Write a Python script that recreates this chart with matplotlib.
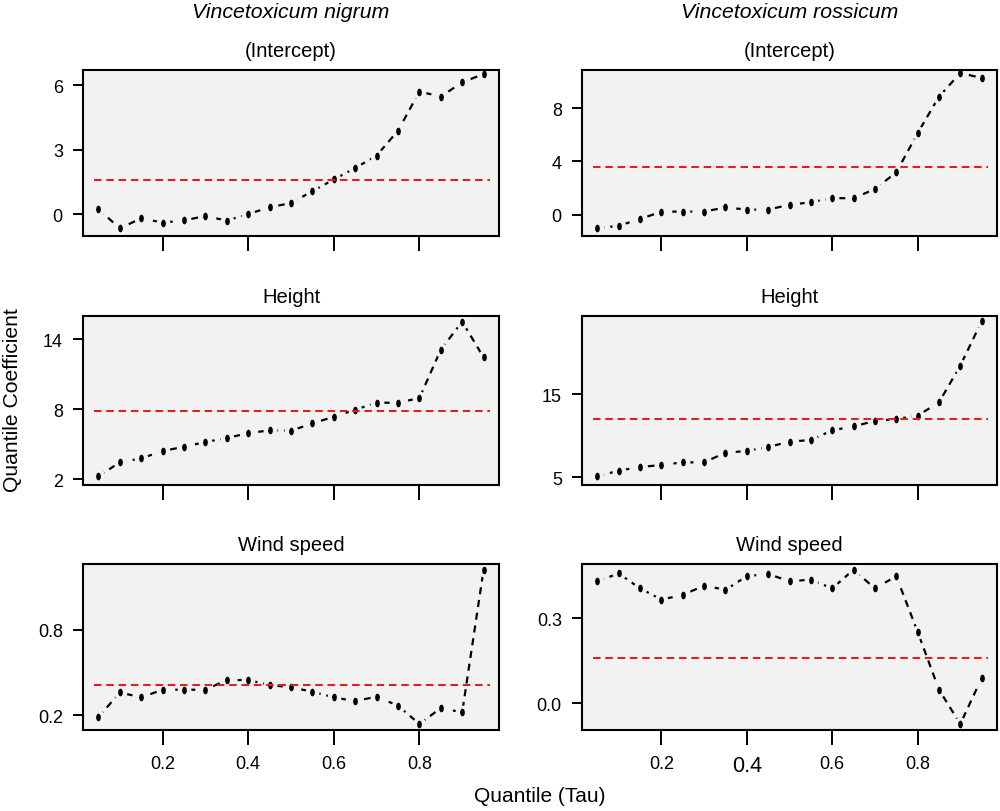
import numpy as np
import matplotlib
matplotlib.use('Agg')
import matplotlib.pyplot as plt
from matplotlib.path import Path

plt.rcParams['font.family'] = ['Liberation Sans', 'DejaVu Sans']

# ── DATA ────────────────────────────────────────────────────────
tau = [0.05, 0.10, 0.15, 0.20, 0.25, 0.30, 0.35, 0.40, 0.45, 0.50,
       0.55, 0.60, 0.65, 0.70, 0.75, 0.80, 0.85, 0.90, 0.95]

species = ['Vincetoxicum nigrum', 'Vincetoxicum rossicum']
terms = ['(Intercept)', 'Height', 'Wind speed']

nigrum_intercept = [0.23, -0.67, -0.20, -0.40, -0.30, -0.09, -0.31, 0.00, 0.31, 0.51,
                    1.06, 1.61, 2.14, 2.72, 3.88, 5.70, 5.47, 6.13, 6.52]
nigrum_height = [2.23, 3.43, 3.77, 4.40, 4.77, 5.17, 5.51, 5.94, 6.17, 6.14,
                 6.77, 7.34, 7.94, 8.54, 8.54, 8.94, 13.09, 15.49, 12.43]
nigrum_wind = [0.184, 0.359, 0.324, 0.378, 0.378, 0.378, 0.446, 0.446, 0.411, 0.395,
               0.364, 0.324, 0.298, 0.329, 0.266, 0.137, 0.249, 0.219, 1.222]

rossicum_intercept = [-1.03, -0.83, -0.33, 0.23, 0.23, 0.23, 0.55, 0.38, 0.38, 0.75,
                      0.93, 1.25, 1.23, 1.93, 3.18, 6.12, 8.87, 10.65, 10.28]
rossicum_height = [5.12, 5.80, 6.24, 6.48, 6.80, 6.80, 7.96, 8.16, 8.64, 9.28,
                   9.48, 10.64, 11.12, 11.76, 12.00, 12.40, 14.00, 18.40, 23.72]
rossicum_wind = [0.429, 0.457, 0.404, 0.365, 0.381, 0.414, 0.399, 0.447, 0.455, 0.429,
                 0.435, 0.404, 0.470, 0.404, 0.447, 0.252, 0.048, -0.073, 0.088]

# OLS estimates (red dashed lines)
nigrum_ols = [1.57, 7.86, 0.411]
rossicum_ols = [3.61, 11.96, 0.159]

# y ticks per panel
nigrum_yticks = [[0, 3, 6], [2, 8, 14], [0.2, 0.8]]
rossicum_yticks = [[0, 4, 8], [5, 15], [0.0, 0.3]]
nigrum_ylabels = [['0', '3', '6'], ['2', '8', '14'], ['0.2', '0.8']]
rossicum_ylabels = [['0', '4', '8'], ['5', '15'], ['0.0', '0.3']]
x_ticks = [0.2, 0.4, 0.6, 0.8]
x_labels = ['0.2', '0.4', '0.6', '0.8']

# ── LAYOUT ──────────────────────────────────────────────────────
BG = '#f2f2f2'
W, H = 1000, 812
col_x = [(83, 499), (582, 997)]
row_y = [(70.7, 236.7), (316.7, 486), (565, 730.7)]
ylims = [[(-1.01, 6.72), (-1.58, 10.9)],
         [(1.49, 16.0), (4.08, 24.4)],
         [(0.097, 1.262), (-0.093, 0.49)]]

# slightly tall dot, like R's small points in the original
circ = Path.unit_circle()
dot = Path(circ.vertices * np.array([0.62, 1.0]), circ.codes)

columns = [
    ([nigrum_intercept, nigrum_height, nigrum_wind], nigrum_ols, nigrum_yticks, nigrum_ylabels),
    ([rossicum_intercept, rossicum_height, rossicum_wind], rossicum_ols, rossicum_yticks, rossicum_ylabels),
]

fig = plt.figure(figsize=(W / 100, H / 100), dpi=100)

for c, (series, ols, yticks, ylabels) in enumerate(columns):
    x0, x1 = col_x[c]
    for r in range(3):
        y0, y1 = row_y[r]
        ax = fig.add_axes([x0 / W, 1 - y1 / H, (x1 - x0) / W, (y1 - y0) / H])
        ax.set_facecolor(BG)
        # R type="b": dashed line broken around each point
        ax.plot(tau, series[r], color='black', lw=1.6, dashes=(3.2, 2.6), zorder=1.0)
        ax.plot(tau, series[r], ls='none', marker='o', ms=10, mfc=BG, mec='none', zorder=1.2)
        ax.plot(tau, series[r], ls='none', marker=dot, ms=5.5, mfc='black', mec='none', zorder=1.4)
        ax.axhline(ols[r], xmin=0.026, xmax=0.978, color='#e0201c', lw=1.5,
                   dashes=(3.6, 2.3), zorder=2.0)
        ax.set_xlim(0.014, 0.986)
        ax.set_ylim(*ylims[r][c])
        ax.set_yticks(yticks[r])
        ax.set_yticklabels(ylabels[r])
        ax.set_xticks(x_ticks)
        if r == 2:
            ax.set_xticklabels(x_labels)
        else:
            ax.set_xticklabels([])
        ax.tick_params(axis='x', length=11, width=1.4, pad=7, labelsize=13)
        ax.tick_params(axis='y', length=7.5, width=1.4, pad=7, labelsize=13)
        for spine in ax.spines.values():
            spine.set_linewidth(1.5)
            spine.set_zorder(3)
        ax.set_title(terms[r], fontsize=14.5, pad=10)
        if r == 2 and c == 1:
            ax.get_xticklabels()[1].set_fontsize(15.5)

    fig.text((x0 + x1) / 2 / W, 1 - 12 / H, species[c], ha='center', va='center',
             fontsize=15.3, style='italic')

fig.text(13 / W, 1 - 400 / H, 'Quantile Coefficient', rotation=90,
         ha='center', va='center', fontsize=15.2)
fig.text(540 / W, 1 - 797 / H, 'Quantile (Tau)', ha='center', va='center', fontsize=15)

fig.savefig('out.png', dpi=100, facecolor='white')
